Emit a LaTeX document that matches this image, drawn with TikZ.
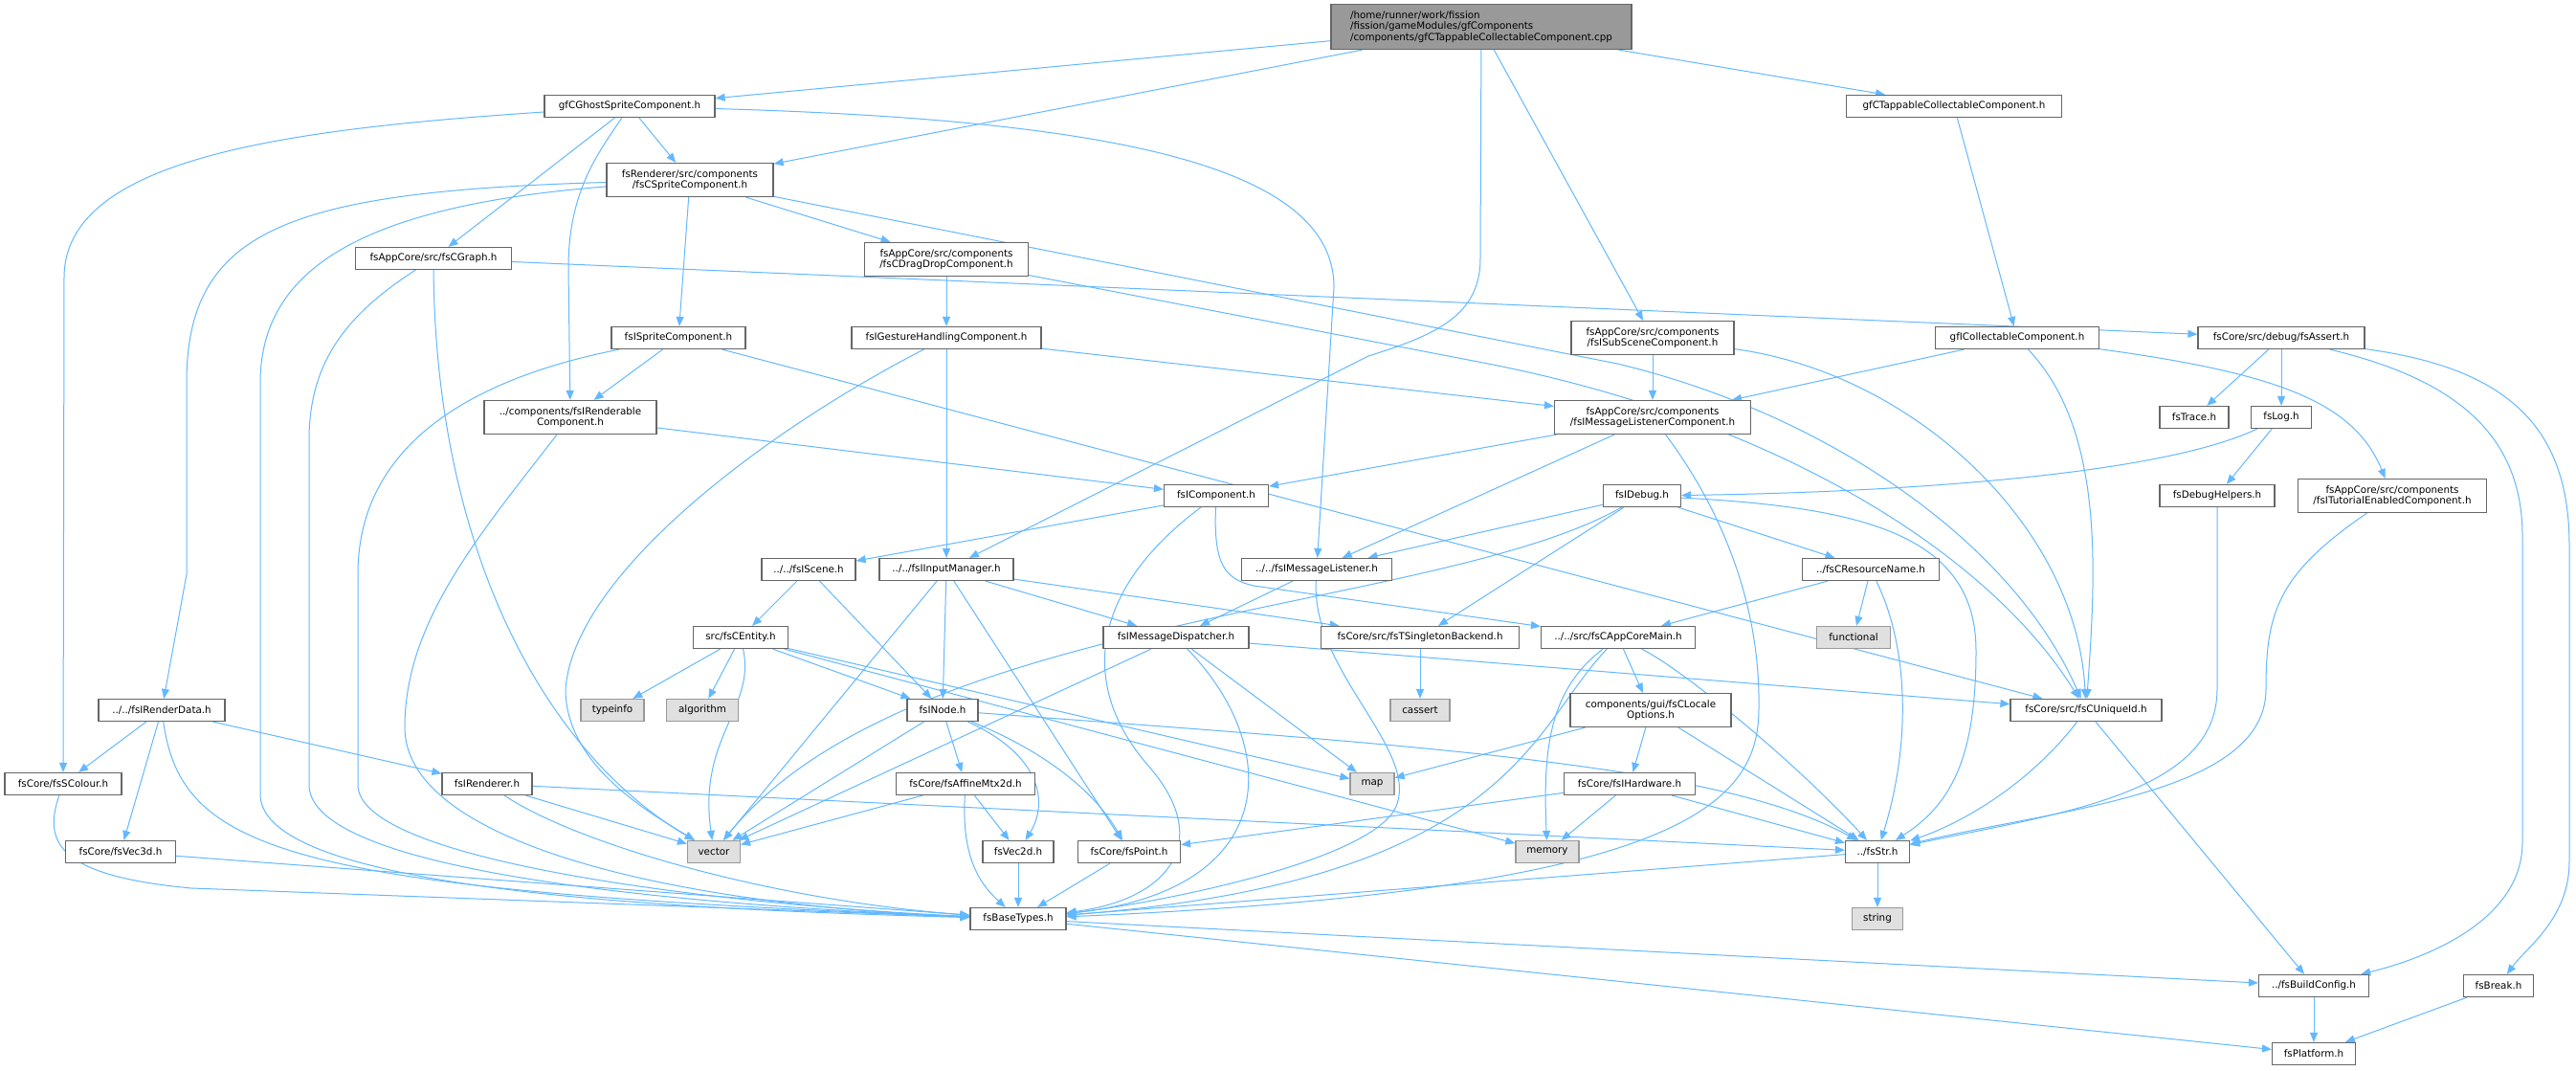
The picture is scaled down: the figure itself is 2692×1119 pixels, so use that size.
\documentclass[tikz,border=0pt]{standalone}
\usepackage{fontspec}
\setmainfont{DejaVu Sans}
\usetikzlibrary{arrows.meta}
\usetikzlibrary{backgrounds}
\definecolor{edgeblue}{HTML}{63B8FF}
\definecolor{boxline}{HTML}{666666}
\definecolor{sysline}{HTML}{999999}
\definecolor{sysfill}{HTML}{E0E0E0}
\definecolor{mainfill}{HTML}{999999}
\tikzset{
every picture/.style={line width=0.75pt, >={Triangle[length=7.5pt,width=6pt]}},
%%%%%%%%%%  Node styles
file/.style={draw=boxline, fill=white, line width=0.9pt, inner xsep=2pt,
             inner ysep=1pt, minimum height=17.25pt, align=center,
             font=\fontsize{7.75}{8.75}\selectfont},
sysfile/.style={file, draw=sysline, fill=sysfill},
mainfile/.style={file, fill=mainfill, align=left},
boxw/.style={minimum width=#1*0.75pt},
boxh/.style={minimum height=#1*0.75pt},
%%%% include lines:
dep/.style={->, draw=edgeblue, line width=0.75pt}
}

\begin{document}
\begin{tikzpicture}[x=0.75pt, y=-0.75pt]
\useasboundingbox (0,0) rectangle (2692,1119);
%%%%%%% files
\node[mainfile, boxw=314, boxh=47] (main) at (1548,28)
     {/home/runner/work/fission\\/fission/gameModules/gfComponents\\/components/gfCTappableCollectableComponent.cpp};
\node[file, boxw=178] (ghost) at (658,111) {gfCGhostSpriteComponent.h};
\node[file, boxw=225] (tappable) at (2042,111) {gfCTappableCollectableComponent.h};
\node[file, boxw=174, boxh=35] (sprite) at (721,188) {fsRenderer/src/components\\/fsCSpriteComponent.h};
\node[file, boxw=163] (graph) at (453,270) {fsAppCore/src/fsCGraph.h};
\node[file, boxw=171, boxh=35] (dragdrop) at (989,271) {fsAppCore/src/components\\/fsCDragDropComponent.h};
\node[file, boxw=140] (isprite) at (709,353) {fsISpriteComponent.h};
\node[file, boxw=198] (gesture) at (989,353) {fsIGestureHandlingComponent.h};
\node[file, boxw=170, boxh=35] (subscene) at (1727,353) {fsAppCore/src/components\\/fsISubSceneComponent.h};
\node[file, boxw=171] (icollect) at (2108,353) {gfICollectableComponent.h};
\node[file, boxw=174] (assert) at (2384,353) {fsCore/src/debug/fsAssert.h};
\node[file, boxw=180, boxh=35] (renderable) at (596,436) {../components/fsIRenderable\\Component.h};
\node[file, boxw=205, boxh=35] (msglistcomp) at (1727,436) {fsAppCore/src/components\\/fsIMessageListenerComponent.h};
\node[file, boxw=72] (trace) at (2293,436) {fsTrace.h};
\node[file, boxw=63] (log) at (2384,436) {fsLog.h};
\node[file, boxw=109] (component) at (1271,518) {fsIComponent.h};
\node[file, boxw=81] (debug) at (1716,518) {fsIDebug.h};
\node[file, boxw=120] (debughelp) at (2317,518) {fsDebugHelpers.h};
\node[file, boxw=197, boxh=35] (tutorial) at (2500,518) {fsAppCore/src/components\\/fsITutorialEnabledComponent.h};
\node[file, boxw=98] (scene) at (845,595) {../../fsIScene.h};
\node[file, boxw=140] (input) at (989,595) {../../fsIInputManager.h};
\node[file, boxw=157] (msglist) at (1376,595) {../../fsIMessageListener.h};
\node[file, boxw=143] (resname) at (1955,595) {../fsCResourceName.h};
\node[file, boxw=99] (entity) at (774,666) {src/fsCEntity.h};
\node[file, boxw=152] (dispatch) at (1229,666) {fsIMessageDispatcher.h};
\node[file, boxw=207] (singleton) at (1484,666) {fsCore/src/fsTSingletonBackend.h};
\node[file, boxw=161] (appcore) at (1691,666) {../../src/fsCAppCoreMain.h};
\node[sysfile, boxw=77] (functional) at (1937,666) {functional};
\node[file, boxw=132] (renderdata) at (169,742) {../../fsIRenderData.h};
\node[sysfile, boxw=66] (typeinfo) at (640,742) {typeinfo};
\node[sysfile, boxw=75] (algorithm) at (734,742) {algorithm};
\node[file, boxw=74] (node) at (985,742) {fsINode.h};
\node[sysfile, boxw=62] (cassert) at (1484,742) {cassert};
\node[file, boxw=168, boxh=35] (locale) at (1725,742) {components/gui/fsCLocale\\Options.h};
\node[file, boxw=158] (uniqueid) at (2180,742) {fsCore/src/fsCUniqueId.h};
\node[file, boxw=122] (colour) at (66,819) {fsCore/fsSColour.h};
\node[file, boxw=94] (renderer) at (509,819) {fsIRenderer.h};
\node[file, boxw=145] (affine) at (1009,819) {fsCore/fsAffineMtx2d.h};
\node[sysfile, boxw=46] (map) at (1434,819) {map};
\node[file, boxw=137] (hardware) at (1703,819) {fsCore/fsIHardware.h};
\node[file, boxw=115] (vec3d) at (126,890) {fsCore/fsVec3d.h};
\node[sysfile, boxw=55] (vector) at (746,890) {vector};
\node[file, boxw=74] (vec2d) at (1064,890) {fsVec2d.h};
\node[file, boxw=107] (point) at (1180,890) {fsCore/fsPoint.h};
\node[sysfile, boxw=66] (memory) at (1617,890) {memory};
\node[file, boxw=67] (str) at (1962,890) {../fsStr.h};
\node[file, boxw=100] (basetypes) at (1064,960) {fsBaseTypes.h};
\node[sysfile, boxw=53] (string) at (1962,960) {string};
\node[file, boxw=115] (buildcfg) at (2418,1030) {../fsBuildConfig.h};
\node[file, boxw=73] (brk) at (2611,1030) {fsBreak.h};
\node[file, boxw=87] (platform) at (2418,1101) {fsPlatform.h};

\begin{scope}[on background layer]
\fill[white] (0,0) rectangle (2692,1119);
%% the .cpp
\draw[dep] (main) -- (ghost);
\draw[dep] (main) -- (sprite);
\draw[dep] (main) -- (1547,270) .. controls (1547,330) and (1500,350) .. (1430,372) -- (input);
\draw[dep] (main) -- (subscene);
\draw[dep] (main) -- (tappable);
%% gfCGhostSpriteComponent.h
\draw[dep] (ghost) -- (sprite);
\draw[dep] (ghost) -- (graph);
\draw[dep] (ghost) .. controls (625,160) and (594,200) .. (594,280) -- (renderable);
\draw[dep] (ghost) .. controls (300,135) and (67,165) .. (67,290) -- (colour);
\draw[dep] (ghost) .. controls (1150,125) and (1394,170) .. (1394,300) -- (msglist);
%% fsCSpriteComponent.h
\draw[dep] (sprite) .. controls (300,200) and (195,240) .. (195,400) -- (195,600) -- (renderdata);
\draw[dep] (sprite) .. controls (380,215) and (272,280) .. (272,400) -- (272,830)
           .. controls (272,930) and (700,950) .. (basetypes);
\draw[dep] (sprite) -- (isprite);
\draw[dep] (sprite) -- (dragdrop);
\draw[dep] (sprite) -- (1690,380) .. controls (1900,430) and (2100,560) .. (uniqueid);
%% fsCGraph.h
\draw[dep] (graph) -- (assert);
\draw[dep] (graph) .. controls (360,330) and (323,380) .. (323,460) -- (323,820)
           .. controls (323,910) and (700,945) .. (basetypes);
\draw[dep] (graph) .. controls (455,560) and (560,780) .. (vector);
%% fsISpriteComponent.h
\draw[dep] (isprite) -- (renderable);
\draw[dep] (isprite) .. controls (520,390) and (374,450) .. (374,600) -- (374,820)
           .. controls (374,900) and (750,945) .. (basetypes);
\draw[dep] (isprite) -- (uniqueid);
%% fsCDragDropComponent.h
\draw[dep] (dragdrop) -- (gesture);
\draw[dep] (dragdrop) -- (1555,380) .. controls (1860,440) and (2080,580) .. (uniqueid);
%% fsIGestureHandlingComponent.h
\draw[dep] (gesture) -- (input);
\draw[dep] (gesture) -- (msglistcomp);
\draw[dep] (gesture) .. controls (800,450) and (600,600) .. (591,720)
           .. controls (591,800) and (680,850) .. (vector);
%% fsISubSceneComponent.h
\draw[dep] (subscene) -- (msglistcomp);
\draw[dep] (subscene) .. controls (2000,390) and (2170,550) .. (uniqueid);
%% gfCTappableCollectableComponent.h, gfICollectableComponent.h
\draw[dep] (tappable) -- (icollect);
\draw[dep] (icollect) -- (msglistcomp);
\draw[dep] (icollect) .. controls (2200,450) and (2190,600) .. (uniqueid);
\draw[dep] (icollect) .. controls (2380,390) and (2460,420) .. (tutorial);
%% fsAssert.h
\draw[dep] (assert) -- (trace);
\draw[dep] (assert) -- (log);
\draw[dep] (assert) .. controls (2560,395) and (2636,450) .. (2636,560) -- (2636,880)
           .. controls (2636,960) and (2540,1000) .. (buildcfg);
\draw[dep] (assert) .. controls (2625,385) and (2685,450) .. (2685,570) -- (2685,900)
           .. controls (2685,960) and (2640,990) .. (brk);
%% fsIMessageListenerComponent.h
\draw[dep] (msglistcomp) -- (component);
\draw[dep] (msglistcomp) -- (msglist);
\draw[dep] (msglistcomp) .. controls (1790,520) and (1840,620) .. (1838,740)
           .. controls (1838,840) and (1760,930) .. (basetypes);
%% fsIRenderable
\draw[dep] (renderable) -- (component);
\draw[dep] (renderable) .. controls (500,560) and (423,650) .. (423,760)
           .. controls (423,880) and (700,945) .. (basetypes);
%% fsIComponent.h
\draw[dep] (component) -- (scene);
\draw[dep] (component) .. controls (1135,620) and (1130,720) .. (1200,800)
           .. controls (1270,880) and (1220,940) .. (basetypes);
\draw[dep] (component) .. controls (1268,590) and (1280,605) .. (1310,612) -- (appcore);
%% fsIDebug.h, fsLog.h
\draw[dep] (debug) -- (msglist);
\draw[dep] (debug) -- (singleton);
\draw[dep] (debug) -- (resname);
\draw[dep] (debug) .. controls (1950,530) and (2065,560) .. (2065,680)
           .. controls (2065,790) and (2040,840) .. (str);
\draw[dep] (debug) .. controls (1500,640) and (950,640) .. (vector);
\draw[dep] (log) .. controls (2250,500) and (1950,515) .. (debug);
\draw[dep] (log) -- (debughelp);
\draw[dep] (debughelp) -- (2317,720) .. controls (2317,830) and (2150,850) .. (str);
\draw[dep] (tutorial) .. controls (2380,600) and (2368,640) .. (2368,720)
           .. controls (2368,830) and (2150,845) .. (str);
%% fsIScene.h, fsIInputManager.h
\draw[dep] (scene) -- (entity);
\draw[dep] (scene) -- (node);
\draw[dep] (input) -- (node);
\draw[dep] (input) -- (dispatch);
\draw[dep] (input) -- (singleton);
\draw[dep] (input) -- (point);
\draw[dep] (input) -- (vector);
%% fsIMessageListener.h, fsIMessageDispatcher.h
\draw[dep] (msglist) -- (dispatch);
\draw[dep] (msglist) .. controls (1370,700) and (1480,780) .. (1460,840)
           .. controls (1440,900) and (1200,945) .. (basetypes);
\draw[dep] (dispatch) -- (vector);
\draw[dep] (dispatch) .. controls (1340,780) and (1340,930) .. (basetypes);
\draw[dep] (dispatch) -- (map);
\draw[dep] (dispatch) -- (uniqueid);
\draw[dep] (singleton) -- (cassert);
%% fsCAppCoreMain.h, fsCLocaleOptions.h
\draw[dep] (appcore) -- (locale);
\draw[dep] (appcore) .. controls (1600,760) and (1580,920) .. (basetypes);
\draw[dep] (appcore) .. controls (1620,720) and (1612,780) .. (memory);
\draw[dep] (appcore) .. controls (1760,700) and (1880,800) .. (str);
\draw[dep] (locale) -- (map);
\draw[dep] (locale) -- (hardware);
\draw[dep] (locale) -- (str);
%% fsCResourceName.h
\draw[dep] (resname) -- (functional);
\draw[dep] (resname) .. controls (1996,680) and (1996,780) .. (str);
\draw[dep] (resname) -- (appcore);
%% fsCEntity.h
\draw[dep] (entity) -- (typeinfo);
\draw[dep] (entity) -- (algorithm);
\draw[dep] (entity) .. controls (790,740) and (729,770) .. (vector);
\draw[dep] (entity) -- (node);
\draw[dep] (entity) -- (map);
\draw[dep] (entity) -- (memory);
%% fsINode.h, fsAffineMtx2d.h
\draw[dep] (node) -- (affine);
\draw[dep] (node) .. controls (1090,790) and (1095,840) .. (vec2d);
\draw[dep] (node) .. controls (1080,780) and (1140,820) .. (point);
\draw[dep] (node) -- (vector);
\draw[dep] (node) .. controls (1500,780) and (1800,800) .. (str);
\draw[dep] (affine) -- (vec2d);
\draw[dep] (affine) .. controls (1005,890) and (1020,920) .. (basetypes);
\draw[dep] (affine) -- (vector);
\draw[dep] (vec2d) -- (basetypes);
\draw[dep] (point) -- (basetypes);
%% fsIHardware.h
\draw[dep] (hardware) -- (point);
\draw[dep] (hardware) -- (memory);
\draw[dep] (hardware) -- (str);
%% fsStr.h, fsCUniqueId.h
\draw[dep] (str) -- (string);
\draw[dep] (str) -- (basetypes);
\draw[dep] (uniqueid) .. controls (2120,820) and (2050,860) .. (str);
\draw[dep] (uniqueid) -- (buildcfg);
%% fsBaseTypes.h and below
\draw[dep] (basetypes) -- (buildcfg);
\draw[dep] (basetypes) -- (platform);
\draw[dep] (buildcfg) -- (platform);
\draw[dep] (brk) -- (platform);
%% fsIRenderData.h
\draw[dep] (renderdata) -- (colour);
\draw[dep] (renderdata) -- (vec3d);
\draw[dep] (renderdata) .. controls (190,890) and (300,930) .. (basetypes);
\draw[dep] (renderdata) -- (renderer);
\draw[dep] (colour) .. controls (45,880) and (60,915) .. (200,928) -- (basetypes);
\draw[dep] (vec3d) -- (basetypes);
%% fsIRenderer.h
\draw[dep] (renderer) -- (vector);
\draw[dep] (renderer) .. controls (600,880) and (800,940) .. (basetypes);
\draw[dep] (renderer) -- (str);
\end{scope}
\end{tikzpicture}
\end{document}
